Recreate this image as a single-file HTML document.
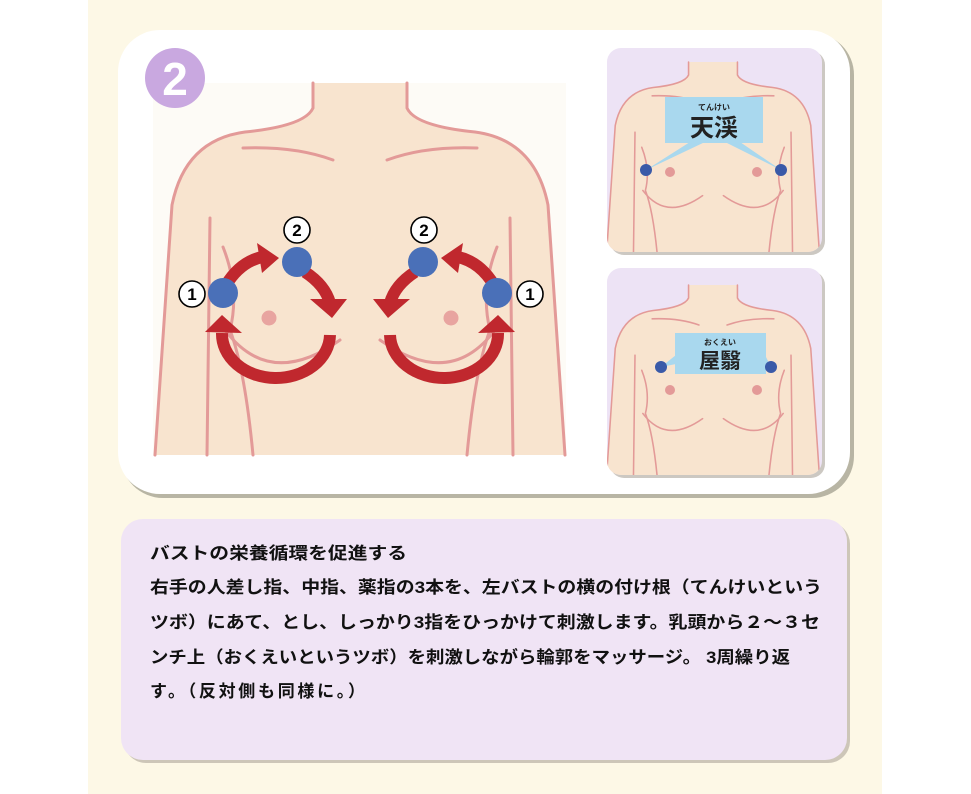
<!DOCTYPE html>
<html><head><meta charset="utf-8"><style>
html,body{margin:0;padding:0;background:#fff;}
svg{display:block}
text{font-family:"Liberation Sans","Noto Sans CJK JP",sans-serif;}
</style></head><body>
<svg width="971" height="794" viewBox="0 0 971 794" xmlns="http://www.w3.org/2000/svg">
<defs>
<g id="body">
  <path d="M313,83 L313,108 Q305,126 245,132 Q185,140 172,205 L155,455 L565,455 L548,205 Q535,140 475,132 Q415,126 407,108 L407,83 Z" fill="#f8e4cf"/>
  <g fill="none" stroke="#e39a98" stroke-width="3" stroke-linecap="round">
    <path d="M313,83 L313,108 Q305,126 245,132 Q185,140 172,205 L155,455"/>
    <path d="M407,83 L407,108 Q415,126 475,132 Q535,140 548,205 L565,455"/>
    <path d="M243,148 Q295,146 333,160"/>
    <path d="M477,148 Q425,146 387,160"/>
    <path d="M210,218 L207,455"/>
    <path d="M510,218 L513,455"/>
    <path d="M223,247 Q240,290 230,330 Q245,370 253,455"/>
    <path d="M497,247 Q480,290 490,330 Q475,370 467,455"/>
    <path d="M225,330 Q270,390 340,340"/>
    <path d="M495,330 Q450,390 380,340"/>
  </g>
</g>
<clipPath id="c1"><rect x="607" y="48" width="215" height="204" rx="14"/></clipPath>
<clipPath id="c2"><rect x="607" y="268" width="215" height="207" rx="14"/></clipPath>
</defs>

<rect x="88" y="0" width="794" height="794" fill="#fdf8e6"/>

<rect x="121" y="33" width="733" height="465" rx="42" fill="#9a9888" opacity="0.7"/>
<rect x="118" y="30" width="732" height="464" rx="42" fill="#fff"/>

<rect x="153" y="83" width="413" height="372" fill="#fdfbf6"/>
<use href="#body"/>

<circle cx="175" cy="78" r="30" fill="#c9a8e0"/>
<text x="175" y="95" font-size="46" font-weight="bold" fill="#fff" text-anchor="middle">2</text>

<g id="arrows">
  <g fill="none" stroke="#c0282e" stroke-width="12">
    <path d="M226,285 Q240,262 262,257"/>
    <path d="M305,272 Q325,285 330,303"/>
    <path d="M330,335 A54,44 0 0 1 222,333"/>
  </g>
  <g fill="#c0282e">
    <polygon points="257,243 279,258 262,273"/>
    <polygon points="310,299 347,299 332,318"/>
    <polygon points="205,332 242,333 222,315"/>
  </g>
  <circle cx="269" cy="318" r="7.5" fill="#e8a4a0"/>
  <circle cx="223" cy="293" r="15" fill="#4a70b8"/>
  <circle cx="297" cy="262" r="15" fill="#4a70b8"/>
</g>
<use href="#arrows" transform="translate(720,0) scale(-1,1)"/>

<g font-size="17" font-weight="bold" text-anchor="middle" fill="#000">
  <circle cx="192" cy="294" r="13" fill="#fff" stroke="#000" stroke-width="1.6"/>
  <text x="192" y="300">1</text>
  <circle cx="297" cy="230" r="13" fill="#fff" stroke="#000" stroke-width="1.6"/>
  <text x="297" y="236">2</text>
  <circle cx="424" cy="230" r="13" fill="#fff" stroke="#000" stroke-width="1.6"/>
  <text x="424" y="236">2</text>
  <circle cx="530" cy="294" r="13" fill="#fff" stroke="#000" stroke-width="1.6"/>
  <text x="530" y="300">1</text>
</g>

<rect x="610" y="51" width="215" height="204" rx="14" fill="#aaa39a" opacity="0.6"/>
<rect x="607" y="48" width="215" height="204" rx="14" fill="#ede3f5"/>
<g clip-path="url(#c1)">
  <use href="#body" transform="translate(713,62) scale(0.52) translate(-360,-83)"/>
</g>
<circle cx="670" cy="172" r="5" fill="#e39a98"/>
<circle cx="757" cy="172" r="5" fill="#e39a98"/>
<polygon points="690,142 705,142 646,170" fill="#a9d8ee"/>
<polygon points="725,142 740,142 781,170" fill="#a9d8ee"/>
<rect x="665" y="97" width="98" height="46" fill="#a9d8ee"/>
<text x="714" y="110" font-size="8" font-weight="bold" text-anchor="middle" fill="#222">てんけい</text>
<text x="714" y="136" font-size="24" font-weight="bold" text-anchor="middle" fill="#222">天渓</text>
<circle cx="646" cy="170" r="6" fill="#3a5aa8"/>
<circle cx="781" cy="170" r="6" fill="#3a5aa8"/>

<rect x="610" y="271" width="215" height="207" rx="14" fill="#aaa39a" opacity="0.6"/>
<rect x="607" y="268" width="215" height="207" rx="14" fill="#ede3f5"/>
<g clip-path="url(#c2)">
  <use href="#body" transform="translate(713,285) scale(0.52) translate(-360,-83)"/>
</g>
<circle cx="670" cy="390" r="5" fill="#e39a98"/>
<circle cx="757" cy="390" r="5" fill="#e39a98"/>
<polygon points="676,355 676,364 661,367" fill="#a9d8ee"/>
<polygon points="765,355 765,364 771,367" fill="#a9d8ee"/>
<rect x="675" y="333" width="91" height="41" fill="#a9d8ee"/>
<text x="720" y="345" font-size="8" font-weight="bold" text-anchor="middle" fill="#222">おくえい</text>
<text x="720" y="368" font-size="21" font-weight="bold" text-anchor="middle" fill="#222">屋翳</text>
<circle cx="661" cy="367" r="6" fill="#3a5aa8"/>
<circle cx="771" cy="367" r="6" fill="#3a5aa8"/>

<rect x="124" y="522" width="726" height="241" rx="22" fill="#b8b0a4" opacity="0.7"/>
<rect x="121" y="519" width="726" height="241" rx="22" fill="#f0e4f5"/>
<g font-size="17" font-weight="bold" fill="#111">
  <text x="150" y="559" textLength="257" lengthAdjust="spacingAndGlyphs">バストの栄養循環を促進する</text>
  <text x="150" y="593" textLength="672" lengthAdjust="spacingAndGlyphs">右手の人差し指、中指、薬指の3本を、左バストの横の付け根（てんけいという</text>
  <text x="150" y="628" textLength="670" lengthAdjust="spacingAndGlyphs">ツボ）にあて、とし、しっかり3指をひっかけて刺激します。乳頭から２～３セ</text>
  <text x="150" y="663" textLength="640" lengthAdjust="spacingAndGlyphs">ンチ上（おくえいというツボ）を刺激しながら輪郭をマッサージ。 3周繰り返</text>
  <text x="150" y="697" textLength="215" lengthAdjust="spacing">す。（反対側も同様に。）</text>
</g>
</svg>
</body></html>
